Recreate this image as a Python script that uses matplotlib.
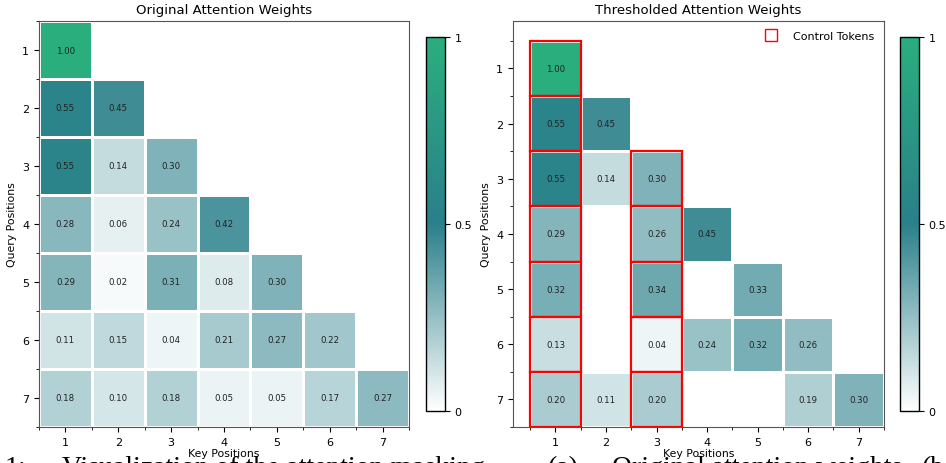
import numpy as np
import matplotlib
matplotlib.use("Agg")
import matplotlib.pyplot as plt
from matplotlib.colors import LinearSegmentedColormap
from matplotlib.patches import Rectangle
from matplotlib.lines import Line2D
from matplotlib.ticker import FixedLocator

# attention weights, row = query position, col = key position (nan = masked)
positions = [1, 2, 3, 4, 5, 6, 7]
nan = np.nan
original = np.array([
    [1.00, nan, nan, nan, nan, nan, nan],
    [0.55, 0.45, nan, nan, nan, nan, nan],
    [0.55, 0.14, 0.30, nan, nan, nan, nan],
    [0.28, 0.06, 0.24, 0.42, nan, nan, nan],
    [0.29, 0.02, 0.31, 0.08, 0.30, nan, nan],
    [0.11, 0.15, 0.04, 0.21, 0.27, 0.22, nan],
    [0.18, 0.10, 0.18, 0.05, 0.05, 0.17, 0.27],
])
thresholded = np.array([
    [1.00, nan, nan, nan, nan, nan, nan],
    [0.55, 0.45, nan, nan, nan, nan, nan],
    [0.55, 0.14, 0.30, nan, nan, nan, nan],
    [0.29, nan, 0.26, 0.45, nan, nan, nan],
    [0.32, nan, 0.34, nan, 0.33, nan, nan],
    [0.13, nan, 0.04, 0.24, 0.32, 0.26, nan],
    [0.20, 0.11, 0.20, nan, nan, 0.19, 0.30],
])
control_cols = [1, 3]

cmap = LinearSegmentedColormap.from_list(
    "teal_green", [(0, "white"), (0.5, "#2a7f8a"), (1, "#2aae7e")])

W, H = 946, 464
fig = plt.figure(figsize=(W / 100, H / 100), dpi=100)

def px(x0, y0, x1, y1):
    return [x0 / W, 1 - y1 / H, (x1 - x0) / W, (y1 - y0) / H]

ax1 = fig.add_axes(px(39, 22, 409, 428))
cax1 = fig.add_axes(px(426, 38, 445, 412))
ax2 = fig.add_axes(px(513, 22, 884, 428))
cax2 = fig.add_axes(px(900, 38, 919, 412))

edges = np.arange(0.5, 8.5, 1)

def draw(ax, cax, data, title):
    m = np.ma.masked_invalid(data)
    mesh = ax.pcolormesh(edges, edges, m, cmap=cmap, vmin=0, vmax=1,
                         edgecolors="white", linewidth=0.8)
    for i in range(7):
        for j in range(7):
            if not np.isnan(data[i, j]):
                ax.text(positions[j], positions[i], f"{data[i, j]:.2f}",
                        ha="center", va="center", fontsize=6.2, color="#222222")
    ax.set_xticks(positions)
    ax.set_yticks(positions)
    ax.xaxis.set_minor_locator(FixedLocator(edges))
    ax.yaxis.set_minor_locator(FixedLocator(edges))
    ax.tick_params(labelsize=8, length=3.5)
    ax.tick_params(which="minor", length=2)
    ax.set_xlabel("Key Positions", fontsize=7.8, labelpad=1)
    ax.set_ylabel("Query Positions", fontsize=7.8)
    ax.set_title(title, fontsize=9.5)
    for s in ax.spines.values():
        s.set_color("#555555")
    cb = fig.colorbar(mesh, cax=cax, ticks=[0, 0.5, 1])
    cb.ax.set_yticklabels(["0", "0.5", "1"])
    cb.ax.tick_params(labelsize=8, length=3.5)
    cb.outline.set_linewidth(1)
    return mesh

draw(ax1, cax1, original, "Original Attention Weights")
ax1.set_xlim(0.5, 7.5)
ax1.set_ylim(7.5, 0.5)

draw(ax2, cax2, thresholded, "Thresholded Attention Weights")
for c in control_cols:
    for r in positions:
        if r >= c:
            ax2.add_patch(Rectangle((c - 0.5, r - 0.5), 1, 1, fill=False,
                                    edgecolor="red", linewidth=1.6, zorder=3))
ax2.set_xlim(0.16, 7.5)
ax2.set_ylim(7.5, 0.14)
handle = Line2D([], [], linestyle="none", marker="s", markersize=8,
                markerfacecolor="none", markeredgecolor="red")
ax2.legend([handle], ["Control Tokens"], loc="upper right", frameon=False,
           fontsize=8, handletextpad=1.0)

# caption of the paper figure, cut off at the bottom edge
caption = [(5, "1:"), (62, "Visualization of the attention masking"),
           (548, "(a)"), (612, "Original attention weights"), (922, "(b")]
for x, s in caption:
    fig.text(x / W, 1 - 475 / H, s, fontsize=20, family="Liberation Serif",
             va="baseline")

fig.savefig("out.png", dpi=100)
